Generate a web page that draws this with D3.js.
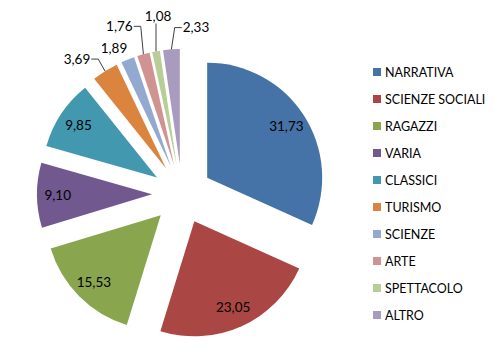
<!DOCTYPE html>
<html><head><meta charset="utf-8">
<script src="https://cdn.jsdelivr.net/npm/d3@7"></script>
<style>html,body{margin:0;padding:0;background:#fff;}svg{display:block;}</style>
</head><body>
<svg id="chart" width="500" height="353"></svg>
<script>
const categories = ["NARRATIVA","SCIENZE SOCIALI","RAGAZZI","VARIA","CLASSICI","TURISMO","SCIENZE","ARTE","SPETTACOLO","ALTRO"];
const values = [31.73,23.05,15.53,9.10,9.85,3.69,1.89,1.76,1.08,2.33];
const colors = ["#4572A7","#AA4643","#89A54E","#71588F","#4198AF","#DB843D","#93A9CF","#D19392","#B9CD96","#A99BBD"];

// layout (not data)
const W = 500, H = 353;
const cx = 182, cy = 194, R = 115, explode = 30;
const font = "Lato, 'Liberation Sans', sans-serif";
const fs = 13.5, legendFs = 12.5;
// outside label placement: [angle in degrees from 12 o'clock, distance from centre]
const outsidePlacement = {5:[322.1,171],6:[335,161],7:[339.5,179],8:[352.3,179],9:[4.8,167]};

const svg = d3.select("#chart");
const fmt = v => d3.format(".2f")(v).replace(".", ",");

const pie = d3.pie().sort(null).value(d => d);
const arcs = pie(values);
const arc = d3.arc().innerRadius(0).outerRadius(R);
const labelArc = d3.arc().innerRadius(R*0.82).outerRadius(R*0.82);

const g = svg.append("g").attr("transform", `translate(${cx},${cy})`);
const dirOf = a => { const m = (a.startAngle + a.endAngle)/2; return [Math.sin(m), -Math.cos(m)]; };

const slices = g.selectAll("g.slice").data(arcs).enter().append("g")
  .attr("class","slice")
  .attr("transform", d => { const [x,y] = dirOf(d); return `translate(${x*explode},${y*explode})`; });
slices.append("path").attr("d", arc).attr("fill", (d,i) => colors[i]);

// inside labels
slices.filter((d,i) => !(i in outsidePlacement)).append("text")
  .attr("transform", d => `translate(${labelArc.centroid(d)})`)
  .attr("text-anchor","middle").attr("dy","0.36em")
  .style("font-family", font).style("font-size", fs+"px").attr("fill","#000")
  .text(d => fmt(d.data));

// outside labels with leader lines
arcs.forEach((d,i) => {
  if (!(i in outsidePlacement)) return;
  const [deg, dist] = outsidePlacement[i];
  const a = deg*Math.PI/180;
  const lx = Math.sin(a)*dist, ly = -Math.cos(a)*dist;
  const t = g.append("text").attr("x", lx).attr("y", ly)
    .attr("text-anchor","middle").attr("dy","0.36em")
    .style("font-family", font).style("font-size", fs+"px").attr("fill","#000")
    .text(fmt(d.data));
  const bb = t.node().getBBox();
  const [dx, dy] = dirOf(d);
  const px = dx*(explode+R), py = dy*(explode+R);
  const left = bb.x, right = bb.x+bb.width, top = bb.y+2, bottom = bb.y+bb.height-2;
  const gx = Math.max(left - px, 0, px - right), gy = Math.max(top - py, 0, py - bottom);
  if (Math.hypot(gx, gy) < 10) return;
  let pts;
  if (px >= left && px <= right) {
    pts = [[px, bottom+1],[px, py]];
  } else if (px > right) {
    pts = [[right+1, ly],[right+8, ly],[px, py]];
  } else {
    pts = [[left-1, ly],[left-8, ly],[px, py]];
  }
  g.append("path").attr("d", d3.line()(pts)).attr("fill","none")
    .attr("stroke","#404040").attr("stroke-width",1);
});

// legend
const leg = svg.append("g").attr("transform","translate(373,72)");
const rows = leg.selectAll("g").data(categories).enter().append("g")
  .attr("transform", (d,i) => `translate(0,${i*27})`);
rows.append("rect").attr("x",0).attr("y",-4).attr("width",8).attr("height",8)
  .attr("fill", (d,i) => colors[i]);
rows.append("text").attr("x",12).attr("y",0).attr("dy","0.36em")
  .style("font-family", font).style("font-size", legendFs+"px").attr("fill","#000")
  .text(d => d);
</script>
</body></html>
